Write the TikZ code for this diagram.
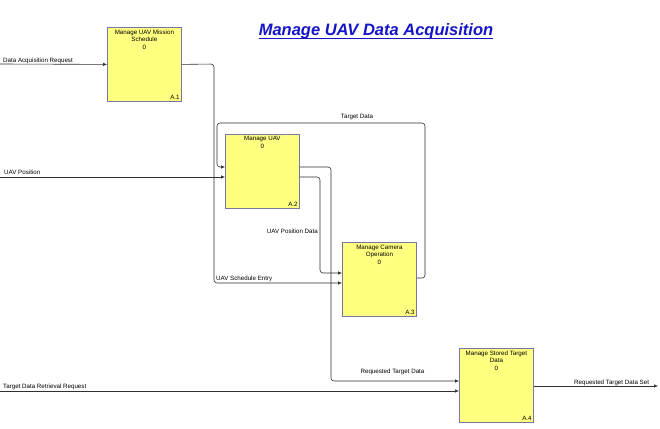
\documentclass[tikz,border=0pt]{standalone}
\usepackage{fontspec}
\setmainfont{Liberation Sans}
\usetikzlibrary{arrows.meta}
\definecolor{boxfill}{HTML}{FFFF80}
\definecolor{boxline}{HTML}{7878A8}
\definecolor{titleblue}{HTML}{1414C8}
\definecolor{flowline}{HTML}{303030}
\tikzset{
  box/.style={draw=boxline, fill=boxfill, line width=0.8pt, minimum width=74pt, minimum height=74pt, inner sep=0pt, anchor=north west},
  flow/.style={draw=flowline, line width=0.6pt, rounded corners=3pt, -{Latex[length=4pt,width=3.5pt]}},
  loop/.style={draw=flowline, line width=0.6pt, rounded corners=3pt},
  lbl/.style={font=\fontsize{6.2}{7.5}\selectfont, inner sep=0pt},
  btxt/.style={font=\fontsize{6.2}{7.6}\selectfont, inner sep=0pt, align=center, anchor=north},
}
\begin{document}
\begin{tikzpicture}[x=1pt,y=-1pt]
\useasboundingbox[fill=white] (0,0) rectangle (660,428);
% title
\node[font=\fontsize{16.5}{18}\selectfont\bfseries\itshape, text=titleblue, inner sep=0pt, anchor=base] (title) at (376,36) {Manage UAV Data Acquisition};
\draw[titleblue, line width=1.1pt] ([yshift=-2.6pt]title.base west) -- ([yshift=-2.6pt]title.base east);

% boxes
\node[box] (a1) at (107,27) {};
\node[box] (a2) at (225,134) {};
\node[box] (a3) at (342,242) {};
\node[box] (a4) at (459,348) {};

\node[btxt] (t1) at ([yshift=-2.5pt]a1.north) {Manage UAV Mission\\Schedule\\0};
\node[btxt] (t2) at ([yshift=-2.5pt]a2.north) {Manage UAV\\0};
\node[btxt] (t3) at ([yshift=-2.5pt]a3.north) {Manage Camera\\Operation\\0};
\node[btxt] (t4) at ([yshift=-2.5pt]a4.north) {Manage Stored Target\\Data\\0};

\node[lbl, anchor=south east] (i1) at ([xshift=-2pt,yshift=2pt]a1.south east) {A.1};
\node[lbl, anchor=south east] (i2) at ([xshift=-2pt,yshift=2pt]a2.south east) {A.2};
\node[lbl, anchor=south east] (i3) at ([xshift=-2pt,yshift=2pt]a3.south east) {A.3};
\node[lbl, anchor=south east] (i4) at ([xshift=-2pt,yshift=2pt]a4.south east) {A.4};

% coordinates
\coordinate (dar) at (0,64);
\coordinate (uavpos) at (0,177);
\coordinate (tdrr) at (0,391);
\coordinate (rtds) at (658,386);
\coordinate (y167) at (0,167);
\coordinate (y177) at (0,177);
\coordinate (y273) at (0,273);
\coordinate (y278) at (0,278);
\coordinate (y283) at (0,283);
\coordinate (y381) at (0,381);
\coordinate (y386) at (0,386);

% connectors
\draw[flow] (dar) -- (a1.west);
\draw[flow] (a1.east) -- (214,64) -- (214,283) -- (a3.west |- y283);
\draw[flow] (uavpos) -- (a2.west |- y177);
\draw[flow] (a3.east |- y278) -- (425,278) -- (425,123) -- (217,123) -- (217,167) -- (a2.west |- y167);
\draw[flow] (a2.east |- y167) -- (331,167) -- (331,381) -- (a4.west |- y381);
\draw[flow] (a2.east |- y177) -- (320,177) -- (320,273) -- (a3.west |- y273);
\draw[flow] (tdrr) -- (a4.west |- tdrr);
\draw[flow] (a4.east |- y386) -- (rtds);

% labels
\node[lbl, anchor=base west] (l1) at (3,62.3) {Data Acquisition Request};
\node[lbl, anchor=base west] (l2) at (4,174.8) {UAV Position};
\node[lbl, anchor=base] (l3) at (357,118.8) {Target Data};
\node[lbl, anchor=base east] (l4) at (318,233) {UAV Position Data};
\node[lbl, anchor=base west] (l5) at (216,280.3) {UAV Schedule Entry};
\node[lbl, anchor=base] (l6) at (392.5,373.5) {Requested Target Data};
\node[lbl, anchor=base west] (l7) at (3,388.8) {Target Data Retrieval Request};
\node[lbl, anchor=base west] (l8) at (574,384) {Requested Target Data Set};
\end{tikzpicture}
\end{document}
